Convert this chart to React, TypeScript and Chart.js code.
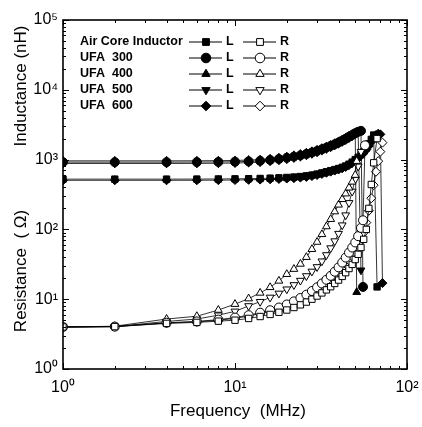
import React, { useEffect, useRef } from "react";
import { Chart, registerables } from "chart.js";

Chart.register(...registerables);

// Frequencies (MHz)
const freqBase = [1, 2, 4, 6, 8, 10, 12, 14, 16, 18, 20, 22, 24, 26, 28, 30, 32, 34, 36, 38, 40, 42, 44, 46, 48, 50];
const fAirTail = [52, 54, 56, 58, 60, 62, 64, 67];
const f300LTail = [52, 54, 55.5];
const f300RTail = [52, 54, 55.5, 57];
const f400LTail = [51];
const f400RTail = [51];
const f500Tail = [52, 54];
const f600Tail = [52, 54, 56, 58, 60, 62, 64, 66, 68, 70, 72];

// Inductance (nH)
const L_air = [525, 525, 525, 526, 528, 530, 533, 537, 542, 548, 555, 562, 572, 585, 600, 620, 645, 670, 695, 720, 745, 775, 810, 860, 920, 1000, 1080, 1180, 1300, 1460, 1680, 1950, 2250, 15];
const L_300 = [920, 920, 920, 922, 926, 932, 944, 960, 988, 1020, 1060, 1103, 1150, 1205, 1265, 1330, 1405, 1485, 1570, 1660, 1760, 1870, 1990, 2120, 2250, 2380, 2500, 2580, 15];
const L_400 = [960, 960, 960, 962, 966, 972, 985, 1000, 1030, 1065, 1105, 1150, 1200, 1255, 1315, 1380, 1455, 1535, 1620, 1715, 1820, 1935, 2060, 2190, 2320, 2450, 12.6];
const L_500 = [880, 880, 880, 882, 886, 892, 904, 920, 946, 978, 1015, 1056, 1100, 1152, 1210, 1272, 1345, 1422, 1505, 1595, 1690, 1795, 1910, 2035, 2165, 2300, 2450, 26];
const L_600 = [505, 505, 505, 506, 508, 510, 513, 517, 522, 528, 535, 542, 552, 565, 580, 600, 624, 648, 672, 696, 720, 750, 785, 835, 895, 975, 1050, 1140, 1250, 1390, 1570, 1800, 2050, 2250, 2350, 2300, 17];

// Resistance (Ohm)
const R_air = [4, 4.05, 4.5, 4.65, 4.85, 5.0, 5.3, 5.65, 6.05, 6.5, 7.0, 7.6, 8.3, 9.1, 10, 11.1, 12.3, 13.6, 15.1, 16.8, 18.8, 21.2, 24, 27.5, 31.5, 37, 44, 55, 72, 100, 200, 440, 900, 2000];
const R_300 = [4, 4.05, 4.6, 4.8, 5.1, 5.45, 5.9, 6.4, 6.95, 7.6, 8.4, 9.3, 10.4, 11.6, 13.1, 14.8, 16.8, 19, 21.6, 24.8, 28.6, 33.5, 39.5, 46.5, 55, 65, 80, 105, 135, 1600];
const R_400 = [4, 4.1, 5.2, 5.7, 7.0, 8.5, 10.2, 12.3, 14.8, 18.3, 22.8, 27, 32, 40, 52, 66, 85, 110, 140, 180, 225, 270, 325, 395, 480, 600, 950];
const R_500 = [4, 4.05, 4.8, 5.2, 5.9, 6.7, 8.0, 9.2, 10.6, 12.1, 13.9, 16, 18.5, 21.5, 25, 29, 35, 43, 54, 68, 87, 115, 160, 240, 350, 520, 800, 1300];
const R_600 = [4, 4.05, 4.55, 4.75, 5.0, 5.3, 5.75, 6.2, 6.7, 7.3, 8.0, 8.8, 9.7, 10.8, 12.1, 13.6, 15.3, 17.2, 19.4, 22, 24.8, 28, 31.8, 36, 41, 47, 55, 68, 90, 125, 185, 280, 430, 670, 950, 1300, 1750];

const seriesNames = ["Air Core Inductor", "UFA  300", "UFA  400", "UFA  500", "UFA  600"];
const xTickExps = [0, 1, 2];
const yTickExps = [0, 1, 2, 3, 4, 5];

const FONT = "'Liberation Sans', Arial, Helvetica, sans-serif";
const SUP = ["\u2070", "\u00b9", "\u00b2", "\u00b3", "\u2074", "\u2075"];

type Style = { shape: string; rot: number };
const styles: Style[] = [
  { shape: "rect", rot: 0 },
  { shape: "circle", rot: 0 },
  { shape: "triangle", rot: 0 },
  { shape: "triangle", rot: 180 },
  { shape: "rectRot", rot: 0 },
];

function pts(f: number[], v: number[]) {
  return v.map((y, i) => ({ x: f[i], y }));
}

function drawMarker(ctx: CanvasRenderingContext2D, shape: string, rot: number, x: number, y: number, r: number, filled: boolean) {
  ctx.save();
  ctx.beginPath();
  if (shape === "circle") {
    ctx.arc(x, y, r, 0, Math.PI * 2);
  } else if (shape === "rect") {
    const s = r * Math.SQRT1_2;
    ctx.rect(x - s, y - s, 2 * s, 2 * s);
  } else if (shape === "rectRot") {
    ctx.moveTo(x, y - r);
    ctx.lineTo(x + r, y);
    ctx.lineTo(x, y + r);
    ctx.lineTo(x - r, y);
    ctx.closePath();
  } else if (shape === "triangle") {
    let a = (rot * Math.PI) / 180;
    for (let k = 0; k < 3; k++) {
      const px = x + Math.sin(a) * r;
      const py = y - Math.cos(a) * r;
      if (k === 0) ctx.moveTo(px, py);
      else ctx.lineTo(px, py);
      a += (2 * Math.PI) / 3;
    }
    ctx.closePath();
  }
  ctx.fillStyle = filled ? "#000" : "#fff";
  ctx.fill();
  ctx.lineWidth = 1;
  ctx.strokeStyle = "#000";
  ctx.stroke();
  ctx.restore();
}

const framePlugin = {
  id: "frameAndLegend",
  afterDraw(chart: any) {
    const ctx: CanvasRenderingContext2D = chart.ctx;
    const { left, right, top, bottom } = chart.chartArea;
    const xs = chart.scales.x;
    const ys = chart.scales.y;
    ctx.save();
    ctx.strokeStyle = "#000";
    ctx.lineWidth = 1.6;
    ctx.strokeRect(left, top, right - left, bottom - top);
    ctx.lineWidth = 1;
    for (let e = 0; e < 2; e++) {
      for (let m = 1; m <= 10; m++) {
        const v = m * Math.pow(10, e);
        const px = Math.round(xs.getPixelForValue(v)) + 0.5;
        const len = m === 1 || m === 10 ? 6 : 3;
        ctx.beginPath();
        ctx.moveTo(px, bottom);
        ctx.lineTo(px, bottom - len);
        ctx.moveTo(px, top);
        ctx.lineTo(px, top + len);
        ctx.stroke();
      }
    }
    for (let e = 0; e < 5; e++) {
      for (let m = 1; m <= 10; m++) {
        const v = m * Math.pow(10, e);
        const py = Math.round(ys.getPixelForValue(v)) + 0.5;
        const len = m === 1 || m === 10 ? 6 : 3;
        ctx.beginPath();
        ctx.moveTo(left, py);
        ctx.lineTo(left + len, py);
        ctx.moveTo(right, py);
        ctx.lineTo(right - len, py);
        ctx.stroke();
      }
    }
    ctx.fillStyle = "#000";
    ctx.font = `17px ${FONT}`;
    ctx.textAlign = "center";
    ctx.textBaseline = "middle";
    ctx.fillText("Frequency  (MHz)", 238, 411);
    ctx.save();
    ctx.translate(21, 86);
    ctx.rotate(-Math.PI / 2);
    ctx.fillText("Inductance (nH)", 0, 0);
    ctx.restore();
    ctx.save();
    ctx.translate(21, 271);
    ctx.rotate(-Math.PI / 2);
    ctx.fillText("Resistance  ( \u03a9)", 0, 0);
    ctx.restore();
    ctx.font = `bold 12.5px ${FONT}`;
    ctx.textAlign = "left";
    seriesNames.forEach((name, i) => {
      const y = 42 + i * 16;
      ctx.fillText(name, 80, y);
      ctx.lineWidth = 1;
      ctx.beginPath();
      ctx.moveTo(189, y);
      ctx.lineTo(222, y);
      ctx.moveTo(243, y);
      ctx.lineTo(276, y);
      ctx.stroke();
      drawMarker(ctx, styles[i].shape, styles[i].rot, 206, y, 4.8, true);
      drawMarker(ctx, styles[i].shape, styles[i].rot, 260, y, 4.8, false);
      ctx.fillText("L", 226, y);
      ctx.fillText("R", 280, y);
    });
    ctx.restore();
  },
};

export default function App() {
  const ref = useRef<HTMLCanvasElement>(null);
  useEffect(() => {
    if (!ref.current) return;
    const defs = [
      { f: [...freqBase, ...fAirTail], v: L_air, s: 0, filled: true },
      { f: [...freqBase, ...f300LTail], v: L_300, s: 1, filled: true },
      { f: [...freqBase, ...f400LTail], v: L_400, s: 2, filled: true },
      { f: [...freqBase, ...f500Tail], v: L_500, s: 3, filled: true },
      { f: [...freqBase, ...f600Tail], v: L_600, s: 4, filled: true },
      { f: [...freqBase, ...fAirTail], v: R_air, s: 0, filled: false },
      { f: [...freqBase, ...f300RTail], v: R_300, s: 1, filled: false },
      { f: [...freqBase, ...f400RTail], v: R_400, s: 2, filled: false },
      { f: [...freqBase, ...f500Tail], v: R_500, s: 3, filled: false },
      { f: [...freqBase, ...f600Tail], v: R_600, s: 4, filled: false },
    ];
    const datasets = defs.map((d) => ({
      label: (d.filled ? "L " : "R ") + seriesNames[d.s],
      data: pts(d.f, d.v),
      showLine: true,
      borderColor: "#000",
      borderWidth: 0.8,
      backgroundColor: d.filled ? "#000" : "#fff",
      pointBackgroundColor: d.filled ? "#000" : "#fff",
      pointBorderColor: "#000",
      pointBorderWidth: 1,
      pointRadius: 4.5,
      pointStyle: styles[d.s].shape,
      pointRotation: styles[d.s].rot,
      order: d.filled ? 1 : 0,
    }));
    const supLabel = (value: any) => {
      const e = Math.log10(Number(value));
      const r = Math.round(e);
      if (Math.abs(e - r) < 1e-6) return "10" + SUP[r];
      return "";
    };
    const chart = new Chart(ref.current, {
      type: "scatter",
      data: { datasets },
      plugins: [framePlugin],
      options: {
        animation: false,
        responsive: false,
        devicePixelRatio: 1,
        layout: { padding: { top: 20, right: 15, left: 0, bottom: 0 } },
        plugins: { legend: { display: false }, tooltip: { enabled: false } },
        scales: {
          x: {
            type: "logarithmic",
            min: Math.pow(10, xTickExps[0]),
            max: Math.pow(10, xTickExps[xTickExps.length - 1]),
            grid: { display: false, drawTicks: false },
            border: { display: false },
            ticks: {
              autoSkip: false,
              maxRotation: 0,
              color: "#000",
              font: { family: FONT, size: 16 },
              padding: 9,
              callback: supLabel,
            },
            afterFit: (s: any) => {
              s.height = 58;
              s.paddingLeft = 0;
              s.paddingRight = 0;
            },
          },
          y: {
            type: "logarithmic",
            min: Math.pow(10, yTickExps[0]),
            max: Math.pow(10, yTickExps[yTickExps.length - 1]),
            grid: { display: false, drawTicks: false },
            border: { display: false },
            ticks: {
              autoSkip: false,
              color: "#000",
              font: { family: FONT, size: 16 },
              padding: 5,
              callback: supLabel,
            },
            afterFit: (s: any) => {
              s.width = 63;
              s.paddingTop = 0;
              s.paddingBottom = 0;
            },
          },
        },
      },
    } as any);
    return () => chart.destroy();
  }, []);
  return (
    <canvas
      ref={ref}
      width={422}
      height={427}
      style={{ position: "absolute", left: 0, top: 0, width: 422, height: 427 }}
    />
  );
}
